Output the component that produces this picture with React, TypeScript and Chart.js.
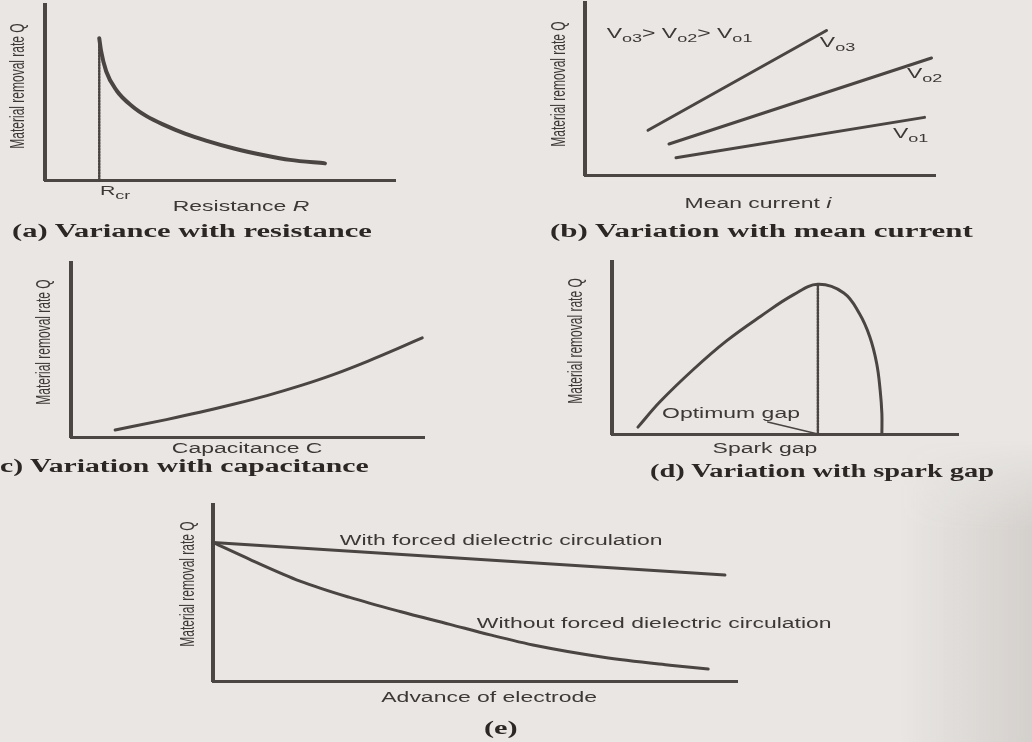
import React, { useEffect, useRef } from 'react';
import { Chart, registerables } from 'chart.js';

Chart.register(...registerables);

const W = 1032;
const H = 742;
const SX = 1.64; // the scan is stretched horizontally
const INK = '#3d3836';
const LINE = '#4a4442';
const AXIS = '#4b4644';
const SANS = '"Liberation Sans", Arial, sans-serif';

// (a) Variance with resistance
const resistanceR = [1.55, 1.6, 1.75, 2.05, 2.5, 2.9, 3.4, 4.0, 4.6, 5.4, 6.3, 7.0, 8.0];
const resistanceQ = [8.1, 7.4, 6.2, 5.1, 4.2, 3.65, 3.15, 2.65, 2.25, 1.8, 1.4, 1.15, 0.95];
const criticalR = [1.55, 1.55];
const criticalQ = [0, 8.1];

// (b) Variation with mean current
const vo3Current = [1.8, 6.9];
const vo3Q = [2.6, 8.4];
const vo2Current = [2.4, 9.9];
const vo2Q = [1.8, 6.8];
const vo1Current = [2.6, 9.7];
const vo1Q = [1.0, 3.35];

// (c) Variation with capacitance
const capacitanceC = [1.25, 2.7, 3.65, 4.6, 5.55, 6.5, 7.45, 8.4, 9.3, 9.95];
const capacitanceQ = [0.4, 1.0, 1.42, 1.88, 2.38, 2.95, 3.6, 4.35, 5.12, 5.7];

// (d) Variation with spark gap
const sparkGap = [0.75, 1.4, 2.35, 3.3, 4.3, 5.25, 5.95, 6.7, 7.15, 7.45, 7.65, 7.75, 7.8, 7.8];
const sparkQ = [0.4, 1.9, 3.75, 5.4, 6.85, 8.1, 8.7, 8.2, 7.0, 5.65, 4.1, 2.55, 1.2, 0];
const optimumGapX = [5.95, 5.95];
const optimumGapQ = [0, 8.7];
const leaderX = [4.5, 5.95];
const leaderQ = [0.7, 0];

// (e) Advance of electrode
const forcedAdvance = [0, 9.77];
const forcedQ = [7.87, 6.02];
const unforcedAdvance = [0, 0.71, 1.66, 2.61, 3.57, 4.52, 5.29, 6.18, 7.45, 8.72, 9.45];
const unforcedQ = [7.87, 6.9, 5.68, 4.75, 3.95, 3.22, 2.62, 2.0, 1.35, 0.9, 0.68];

const Y_TITLE = 'Material removal rate Q';

const zip = (xs: number[], ys: number[]) => xs.map((x, i) => ({ x, y: ys[i] }));

type Run = { t: string; size?: number; italic?: boolean; dy?: number };
type Label = { runs: Run[]; x: number; y: number; size: number; align?: 'left' | 'center'; rotate?: boolean };

function labelPlugin(items: Label[]) {
  return {
    id: 'stretchLabels',
    afterDraw(chart: any) {
      const { ctx } = chart;
      const xs = chart.scales.x;
      const ys = chart.scales.y;
      for (const it of items) {
        const px = xs.getPixelForValue(it.x);
        const py = ys.getPixelForValue(it.y);
        ctx.save();
        ctx.translate(px, py);
        ctx.scale(SX, 1);
        if (it.rotate) ctx.rotate(-Math.PI / 2);
        let total = 0;
        const fonts = it.runs.map((r) => {
          const size = r.size ?? it.size;
          const f = `${r.italic ? 'italic ' : ''}${size}px ${SANS}`;
          ctx.font = f;
          const w = ctx.measureText(r.t).width;
          total += w;
          return { f, w };
        });
        let cx = it.align === 'left' ? 0 : -total / 2;
        const base = it.size * 0.36;
        ctx.fillStyle = INK;
        ctx.textAlign = 'left';
        ctx.textBaseline = 'alphabetic';
        it.runs.forEach((r, i) => {
          ctx.font = fonts[i].f;
          ctx.fillText(r.t, cx, base + (r.dy ?? 0));
          cx += fonts[i].w;
        });
        ctx.restore();
      }
    },
  };
}

type Series = { data: { x: number; y: number }[]; width?: number; dash?: number[]; mono?: boolean; tension?: number };
type PanelDef = {
  area: { left: number; top: number; right: number; bottom: number };
  series: Series[];
  labels: Label[];
};

const yTitle = (x: number, y: number): Label => ({ runs: [{ t: Y_TITLE }], x, y, size: 12, rotate: true });
const vSub = (sub: string): Run[] => [{ t: 'V', size: 14 }, { t: sub, size: 11, dy: 4 }];

const panels: PanelDef[] = [
  {
    area: { left: 45, top: 5, right: 395, bottom: 180 },
    series: [
      { data: zip(resistanceR, resistanceQ), width: 4, mono: true },
      { data: zip(criticalR, criticalQ), width: 2.5, dash: [1.5, 1.5] },
    ],
    labels: [
      yTitle(-0.8, 5.37),
      { runs: [{ t: 'Resistance ' }, { t: 'R', italic: true }], x: 5.6, y: -1.49, size: 14 },
      { runs: [{ t: 'R', size: 13 }, { t: 'cr', size: 11, dy: 4 }], x: 1.57, y: -0.57, size: 13, align: 'left' },
    ],
  },
  {
    area: { left: 585, top: 3, right: 935, bottom: 175 },
    series: [
      { data: zip(vo3Current, vo3Q) },
      { data: zip(vo2Current, vo2Q) },
      { data: zip(vo1Current, vo1Q) },
    ],
    labels: [
      yTitle(-0.77, 5.29),
      { runs: [{ t: 'Mean current ' }, { t: 'i', italic: true }], x: 4.94, y: -1.63, size: 14 },
      {
        runs: [...vSub('o3'), { t: '> ' }, ...vSub('o2'), { t: '> ' }, ...vSub('o1')],
        x: 0.62, y: 8.26, size: 14, align: 'left',
      },
      { runs: vSub('o3'), x: 6.71, y: 7.73, size: 14, align: 'left' },
      { runs: vSub('o2'), x: 9.2, y: 5.93, size: 14, align: 'left' },
      { runs: vSub('o1'), x: 8.8, y: 2.44, size: 14, align: 'left' },
    ],
  },
  {
    area: { left: 71, top: 263, right: 424, bottom: 437 },
    series: [{ data: zip(capacitanceC, capacitanceQ), mono: true }],
    labels: [
      yTitle(-0.79, 5.46),
      { runs: [{ t: 'Capacitance C' }], x: 4.99, y: -0.63, size: 14 },
    ],
  },
  {
    area: { left: 612, top: 262, right: 958, bottom: 434 },
    series: [
      { data: zip(sparkGap, sparkQ), tension: 0.4 },
      { data: zip(optimumGapX, optimumGapQ), width: 2.5, dash: [1.5, 1.5] },
      { data: zip(leaderX, leaderQ), width: 1.5 },
    ],
    labels: [
      yTitle(-1.07, 5.41),
      { runs: [{ t: 'Optimum gap' }], x: 3.44, y: 1.22, size: 14 },
      { runs: [{ t: 'Spark gap' }], x: 4.42, y: -0.81, size: 14 },
    ],
  },
  {
    area: { left: 213, top: 505, right: 737, bottom: 681 },
    series: [
      { data: zip(forcedAdvance, forcedQ) },
      { data: zip(unforcedAdvance, unforcedQ), mono: true },
    ],
    labels: [
      yTitle(-0.5, 5.51),
      { runs: [{ t: 'With forced dielectric circulation' }], x: 5.5, y: 8.01, size: 14 },
      { runs: [{ t: 'Without forced dielectric circulation' }], x: 8.42, y: 3.3, size: 14 },
      { runs: [{ t: 'Advance of electrode' }], x: 5.27, y: -0.91, size: 14 },
    ],
  },
];

const captions = [
  { text: '(a) Variance with resistance', left: 12, cy: 231, sx: 1.65 },
  { text: '(b) Variation with mean current', left: 550, cy: 231, sx: 1.675 },
  { text: 'c) Variation with capacitance', left: 0, cy: 466, sx: 1.605 },
  { text: '(d) Variation with spark gap', left: 650, cy: 471, sx: 1.535 },
  { text: '(e)', left: 484, cy: 728, sx: 1.64 },
];

function buildConfig(p: PanelDef): any {
  const { area } = p;
  return {
    type: 'scatter',
    data: {
      datasets: p.series.map((s) => ({
        data: s.data,
        showLine: true,
        borderColor: LINE,
        backgroundColor: LINE,
        borderWidth: s.width ?? 3,
        borderDash: s.dash ?? [],
        borderCapStyle: 'round',
        pointRadius: 0,
        pointHoverRadius: 0,
        tension: s.mono ? 0.4 : s.tension ?? 0,
        cubicInterpolationMode: s.mono ? 'monotone' : 'default',
        fill: false,
        clip: false,
      })),
    },
    options: {
      responsive: false,
      animation: false,
      devicePixelRatio: 1,
      events: [],
      layout: {
        padding: { left: area.left, top: area.top, right: W - area.right, bottom: H - area.bottom },
      },
      plugins: { legend: { display: false }, tooltip: { enabled: false }, title: { display: false } },
      scales: {
        x: {
          type: 'linear',
          min: 0,
          max: 10,
          grid: { display: false, drawTicks: false, tickLength: 0 },
          ticks: { display: false },
          border: { display: true, color: AXIS, width: 3 },
          afterFit: (s: any) => { s.height = 0; },
        },
        y: {
          type: 'linear',
          min: 0,
          max: 10,
          grid: { display: false, drawTicks: false, tickLength: 0 },
          ticks: { display: false },
          border: { display: true, color: AXIS, width: 4 },
          afterFit: (s: any) => { s.width = 0; },
        },
      },
    },
    plugins: [labelPlugin(p.labels)],
  };
}

function Panel({ def }: { def: PanelDef }) {
  const ref = useRef<HTMLCanvasElement>(null);
  useEffect(() => {
    if (!ref.current) return;
    const chart = new Chart(ref.current, buildConfig(def));
    return () => chart.destroy();
  }, [def]);
  return (
    <canvas
      ref={ref}
      width={W}
      height={H}
      style={{ position: 'absolute', left: 0, top: 0, width: W, height: H }}
    />
  );
}

export default function App() {
  return (
    <div
      style={{
        position: 'absolute',
        left: 0,
        top: 0,
        width: W,
        height: H,
        overflow: 'hidden',
        background: '#e9e6e3',
      }}
    >
      <div
        style={{
          position: 'absolute',
          left: 900,
          top: 440,
          width: W - 900,
          height: H - 440,
          background: 'linear-gradient(to right, rgba(120,110,105,0) 0%, rgba(120,110,105,0.18) 100%)',
          WebkitMaskImage: 'linear-gradient(to bottom, transparent 0px, black 90px)',
          maskImage: 'linear-gradient(to bottom, transparent 0px, black 90px)',
        }}
      />
      {panels.map((p, i) => (
        <Panel key={i} def={p} />
      ))}
      {captions.map((c, i) => (
        <div
          key={i}
          style={{
            position: 'absolute',
            left: c.left,
            top: c.cy - 12,
            height: 24,
            lineHeight: '24px',
            whiteSpace: 'nowrap',
            fontFamily: '"Liberation Serif", "Times New Roman", serif',
            fontWeight: 'bold',
            fontSize: 18.5,
            color: '#2c2725',
            transform: `scaleX(${c.sx})`,
            transformOrigin: 'left center',
          }}
        >
          {c.text}
        </div>
      ))}
    </div>
  );
}
